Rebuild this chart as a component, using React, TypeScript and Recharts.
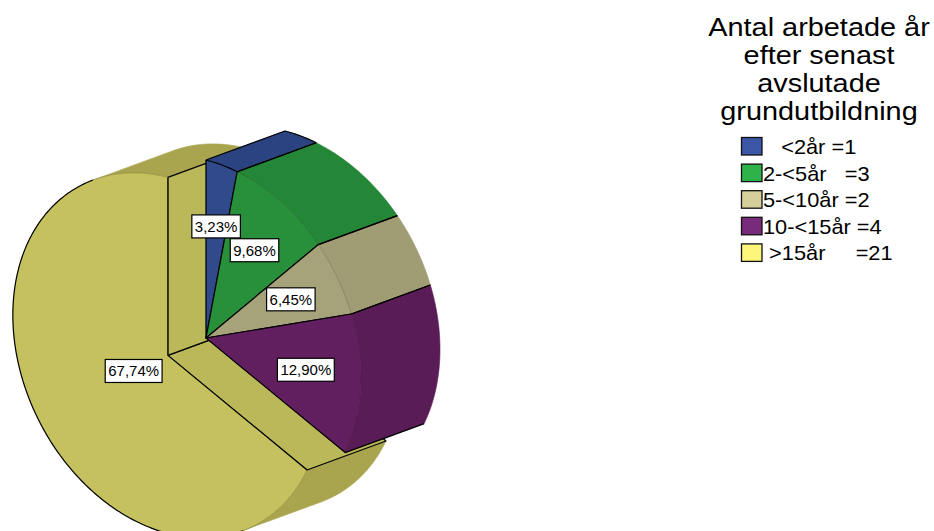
import React from 'react';
import { PieChart, Pie, Legend } from 'recharts';

// Years worked after finishing basic education (counts per group)
const CATEGORIES = ['<2år', '2-<5år', '5-<10år', '10-<15år', '>15år'];
const COUNTS = [1, 3, 2, 4, 21];
const LEGEND_LABELS = ['   <2år =1', '2-<5år   =3', '5-<10år =2', '10-<15år =4', ' >15år     =21'];
const TITLE_LINES = ['Antal arbetade år', 'efter senast', 'avslutade', 'grundutbildning'];

const data = CATEGORIES.map((name, i) => ({ name, value: COUNTS[i] }));

// colours: legend keys, lit front faces, side walls, radial cut faces
const KEY_COLORS = ['#3b55a7', '#2eb34b', '#d5d09b', '#782a7b', '#fdf67b'];
const FACE_COLORS = ['#304a8b', '#288f3b', '#a6a279', '#621f60', '#c5c15e'];
const WALL_COLORS = ['#2c4381', '#238737', '#a09c73', '#5a1c57', '#a9a54e'];
const CUT_COLORS = ['#2b417c', '#21843a', '#9d9970', '#581b55', '#bbb85a'];

// 3D look: the pie face is tilted and extruded towards the upper right
const EXPLODED = 4;
const EXPLODE_FRAC = 0.29;
const TILT = 178 / 155;
const SHEAR = 0.26;
const DEPTH: Pt = [79, -29];
const FONT = '"Liberation Sans", Arial, Helvetica, sans-serif';

type Pt = [number, number];

const proj = (cx: number, cy: number, r: number, deg: number): Pt => {
  const t = (deg * Math.PI) / 180;
  const u = r * Math.cos(t);
  const v = r * Math.sin(t);
  return [cx + u, cy - TILT * v + SHEAR * u];
};
const add = (p: Pt, d: Pt): Pt => [p[0] + d[0], p[1] + d[1]];
const area = (pts: Pt[]) => {
  let s = 0;
  for (let i = 0; i < pts.length; i++) {
    const a = pts[i];
    const b = pts[(i + 1) % pts.length];
    s += a[0] * b[1] - b[0] * a[1];
  }
  return s / 2;
};
const path = (pts: Pt[], close = true) =>
  'M' + pts.map((p) => p[0].toFixed(2) + ',' + p[1].toFixed(2)).join('L') + (close ? 'Z' : '');

const runs = (flags: boolean[], want: boolean) => {
  const out: [number, number][] = [];
  let s = -1;
  flags.forEach((f, i) => {
    if (f === want && s < 0) s = i;
    if (f !== want && s >= 0) {
      out.push([s, i]);
      s = -1;
    }
  });
  if (s >= 0) out.push([s, flags.length]);
  return out;
};

const indexOf = (props: any) => CATEGORIES.indexOf(props?.payload?.name ?? props?.name);

const geometry = (props: any) => {
  const { cx, cy, outerRadius: r, startAngle, endAngle, midAngle } = props;
  const idx = indexOf(props);
  let center: Pt = [cx, cy];
  if (idx === EXPLODED) center = proj(cx, cy, r * EXPLODE_FRAC, midAngle);
  const n = Math.max(2, Math.ceil(Math.abs(startAngle - endAngle)));
  const front: Pt[] = [];
  for (let i = 0; i <= n; i++) {
    front.push(proj(center[0], center[1], r, startAngle + ((endAngle - startAngle) * i) / n));
  }
  const back = front.map((p) => add(p, DEPTH));
  const seen: boolean[] = [];
  for (let i = 0; i < n; i++) seen.push(area([front[i], front[i + 1], back[i + 1], back[i]]) < 0);
  return { idx, center, front, back, seen, n };
};

const walls = (g: ReturnType<typeof geometry>, color: string) =>
  runs(g.seen, true).map(([a, b], k) => {
    const pts = g.front.slice(a, b + 1).concat(g.back.slice(a, b + 1).reverse());
    return <path key={'w' + k} d={path(pts)} fill={color} stroke={color} strokeWidth={0.6} />;
  });

// Pulled-out slice: its side wall and the two radial cut faces
const BackShape = (props: any) => {
  const g = geometry(props);
  if (g.idx !== EXPLODED) return <g />;
  const c = g.center;
  const cd = add(c, DEPTH);
  const startFace: Pt[] = [c, g.front[0], g.back[0], cd];
  const endFace: Pt[] = [c, g.front[g.n], g.back[g.n], cd];
  return (
    <g>
      {walls(g, WALL_COLORS[g.idx])}
      {area(startFace) < 0 && (
        <path d={path(startFace)} fill={CUT_COLORS[g.idx]} stroke="#000" strokeWidth={1.2} strokeLinejoin="round" />
      )}
      {area(endFace) > 0 && (
        <path d={path(endFace)} fill={CUT_COLORS[g.idx]} stroke="#000" strokeWidth={1.2} strokeLinejoin="round" />
      )}
    </g>
  );
};

// Side walls of the slices that stay in place
const SideShape = (props: any) => {
  const g = geometry(props);
  if (g.idx === EXPLODED) return <g />;
  return <g>{walls(g, WALL_COLORS[g.idx])}</g>;
};

// Front faces with their edges
const FrontShape = (props: any) => {
  const g = geometry(props);
  const c = g.center;
  const small = (props.percent ?? 1) < 0.05;
  const faceArc = (want: boolean) =>
    runs(g.seen, want).map(([a, b], k) => (
      <path
        key={(want ? 'v' : 'h') + k}
        d={path(g.front.slice(a, b + 1), false)}
        fill="none"
        stroke="#000"
        strokeOpacity={want && !small ? 0.3 : 1}
        strokeWidth={want && !small ? 0.6 : 1.2}
      />
    ));
  return (
    <g>
      <path d={path([c, ...g.front])} fill={FACE_COLORS[g.idx]} stroke={FACE_COLORS[g.idx]} strokeWidth={0.4} />
      {faceArc(true)}
      {faceArc(false)}
      {small &&
        runs(g.seen, true).map(([a, b], k) => (
          <path key={'b' + k} d={path(g.back.slice(a, b + 1), false)} fill="none" stroke="#000" strokeWidth={1.2} />
        ))}
      {g.idx !== EXPLODED && g.seen[0] && (
        <path d={path([g.front[0], g.back[0]], false)} stroke="#000" strokeWidth={1.2} />
      )}
      {g.idx !== EXPLODED && g.seen[g.n - 1] && (
        <path d={path([g.front[g.n], g.back[g.n]], false)} stroke="#000" strokeWidth={1.2} />
      )}
      <path d={path([g.front[0], c, g.front[g.n]], false)} fill="none" stroke="#000" strokeWidth={1.2} strokeLinejoin="round" />
    </g>
  );
};

const CHAR_EM: Record<string, number> = { ',': 0.278, '%': 0.889 };
const textWidth = (s: string, size: number) =>
  s.split('').reduce((w, ch) => w + (CHAR_EM[ch] ?? 0.556), 0) * size;

const renderLabel = (props: any) => {
  const { cx, cy, midAngle, outerRadius: r, percent } = props;
  const idx = indexOf(props);
  let center: Pt = [cx, cy];
  let frac = 0.645;
  if (idx === EXPLODED) {
    center = proj(cx, cy, r * EXPLODE_FRAC, midAngle);
    frac = 0.26;
  }
  const [x, y] = proj(center[0], center[1], r * frac, midAngle);
  const text = (percent * 100).toFixed(2).replace('.', ',') + '%';
  const w = textWidth(text, 15) + 6;
  const h = 23;
  return (
    <g key={'lab' + idx}>
      <rect x={x - w / 2} y={y - h / 2} width={w} height={h} fill="#fff" stroke="#000" strokeWidth={1.2} />
      <text x={x} y={y + 5.5} textAnchor="middle" fontSize={15} fontFamily={FONT} fill="#000">
        {text}
      </text>
    </g>
  );
};

const LegendBlock = () => (
  <svg width={244} height={280} style={{ display: 'block' }}>
    {TITLE_LINES.map((t, i) => (
      <text
        key={'t' + i}
        transform={`translate(129,${36 + 28 * i}) scale(1.09,1)`}
        textAnchor="middle"
        fontSize={26.5}
        fontFamily={FONT}
        fill="#000"
      >
        {t}
      </text>
    ))}
    {LEGEND_LABELS.map((t, i) => (
      <g key={'k' + i}>
        <rect x={51.5} y={137.5 + 26.6 * i} width={20.5} height={17.5} fill={KEY_COLORS[i]} stroke="#111" strokeWidth={1.3} />
        <text
          transform={`translate(73,${154 + 26.6 * i}) scale(1.09,1)`}
          fontSize={20}
          fontFamily={FONT}
          fill="#000"
          style={{ whiteSpace: 'pre' }}
        >
          {t}
        </text>
      </g>
    ))}
  </svg>
);

export default function App() {
  const common = {
    data,
    dataKey: 'value',
    nameKey: 'name',
    cx: 206,
    cy: 338,
    outerRadius: 155,
    startAngle: 90,
    endAngle: -270,
    stroke: 'none',
    isAnimationActive: false,
  };
  return (
    <div style={{ position: 'absolute', left: 0, top: 0, width: 934, height: 531, background: '#fff' }}>
      <PieChart width={934} height={531} margin={{ top: 0, right: 0, bottom: 0, left: 0 }}>
        <Pie {...common} legendType="none" shape={BackShape} inactiveShape={BackShape} activeShape={BackShape} />
        <Pie {...common} legendType="none" shape={SideShape} inactiveShape={SideShape} activeShape={SideShape} />
        <Pie
          {...common}
          shape={FrontShape}
          inactiveShape={FrontShape}
          activeShape={FrontShape}
          label={renderLabel}
          labelLine={false}
        />
        <Legend
          layout="vertical"
          align="right"
          verticalAlign="top"
          content={() => <LegendBlock />}
          wrapperStyle={{ right: 0, top: 0, width: 244, height: 280 }}
        />
      </PieChart>
    </div>
  );
}
